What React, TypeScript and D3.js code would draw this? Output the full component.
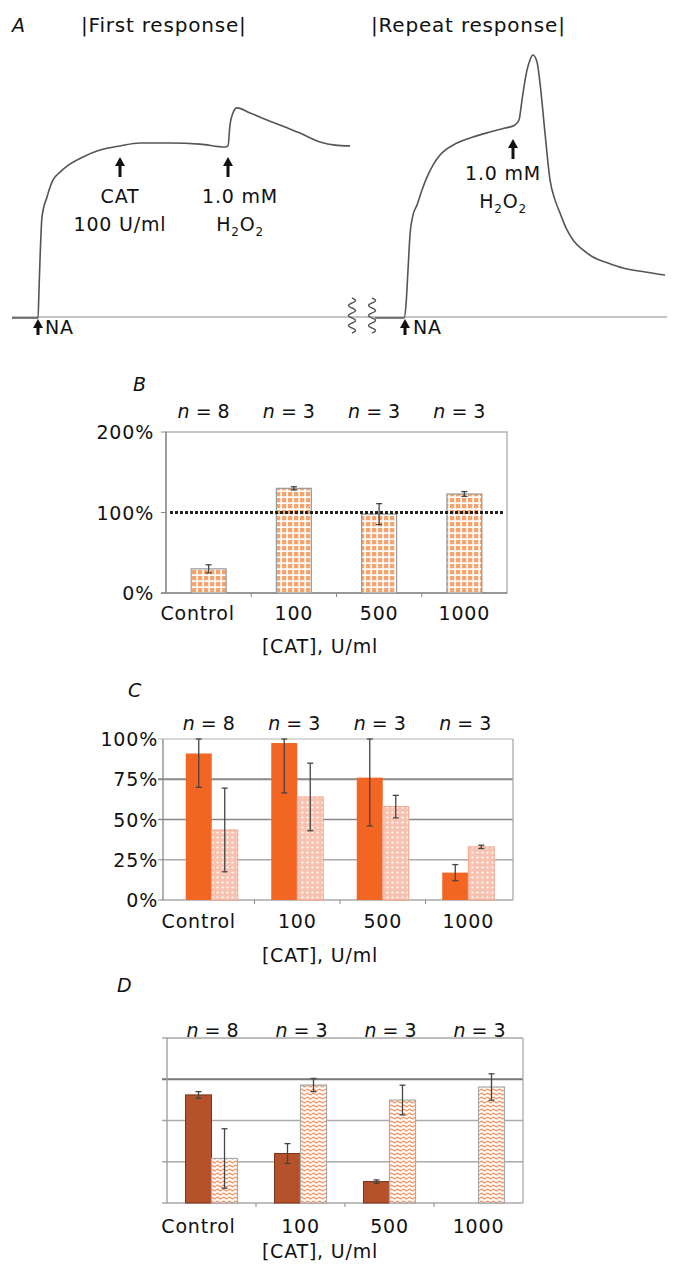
import React from 'react';
import * as d3 from 'd3';

// ---------- DATA ----------
const categories = ['Control', '100', '500', '1000'];
const nCounts = ['8', '3', '3', '3'];

const bTicks = [0, 100, 200];
const bValues = [30, 130, 98, 123];
const bErrors = [5, 2, 13, 3];

const cTicks = [0, 25, 50, 75, 100];
const cSolid = [91, 97.5, 76, 17];
const cSolidErr = [21, 31, 30, 5];
const cPattern = [43.5, 64, 58, 33];
const cPatternErr = [26, 21, 7, 1];

const dGrid = [0, 25, 50, 75, 100];
const dSolid = [65.5, 30, 13, 0];
const dSolidErr = [2, 6, 1, 0];
const dPattern = [27, 71.5, 62.4, 70.3];
const dPatternErr = [18, 4, 9, 8];

// Panel A traces (time in arbitrary units, response relative to repeat-response peak)
const firstTime = [0, 25, 26, 27, 28, 30, 35, 41, 48, 55, 71, 88, 108, 128, 158, 188, 213, 216, 218, 221, 225, 238, 255, 273, 288, 308, 323, 338];
const firstResp = [-0.004, -0.004, -0.004, 0.103, 0.218, 0.382, 0.458, 0.523, 0.553, 0.576, 0.611, 0.637, 0.653, 0.664, 0.664, 0.66, 0.649, 0.653, 0.733, 0.779, 0.798, 0.779, 0.752, 0.725, 0.702, 0.668, 0.656, 0.653];
const repeatTime = [0, 29, 31, 33, 35, 38, 42, 47, 52, 58, 65, 82, 98, 115, 130, 140, 144, 147, 151, 155, 158, 162, 165, 170, 175, 180, 185, 191, 198, 208, 218, 233, 248, 270, 290];
const repeatResp = [-0.004, -0.004, 0.046, 0.179, 0.313, 0.389, 0.427, 0.485, 0.534, 0.58, 0.618, 0.664, 0.687, 0.706, 0.721, 0.733, 0.752, 0.828, 0.924, 0.981, 1.0, 0.973, 0.893, 0.702, 0.523, 0.447, 0.397, 0.34, 0.294, 0.256, 0.229, 0.206, 0.187, 0.172, 0.16];
const firstCatTime = 108;
const firstH2O2Time = 216;
const firstNATime = 26;
const repeatH2O2Time = 138;
const repeatNATime = 30;

const FONT = '"DejaVu Sans", Lato, sans-serif';
const FS = 19;
const LS = 0.8;
const ORANGE = '#f26522';
const BROWN = '#b5522b';

function Arrow({ x, tip, len = 20 }: { x: number; tip: number; len?: number }) {
  const head = 9;
  return (
    <g>
      <path d={`M${x - 5},${tip + head} L${x},${tip} L${x + 5},${tip + head} Z`} fill="#111" />
      <line x1={x} x2={x} y1={tip + head - 1} y2={tip + len} stroke="#111" strokeWidth={3} />
    </g>
  );
}

function Squiggle({ x, y0, y1 }: { x: number; y0: number; y1: number }) {
  const pts: [number, number][] = [];
  const n = 60;
  for (let i = 0; i <= n; i++) {
    const y = y0 + ((y1 - y0) * i) / n;
    pts.push([x + 3.5 * Math.sin((i / n) * Math.PI * 7), y]);
  }
  return <path d={d3.line()(pts) || ''} fill="none" stroke="#555" strokeWidth={1.4} />;
}

function T(props: any) {
  return <text fontSize={FS} fill="#111" letterSpacing={LS} {...props} />;
}

function NLabel({ x, y, n }: { x: number; y: number; n: string }) {
  return (
    <text x={x} y={y} textAnchor="middle" fontSize={FS} fill="#111">
      <tspan fontStyle="italic">n</tspan>
      <tspan> = {n}</tspan>
    </text>
  );
}

function H2O2({ x, y }: { x: number; y: number }) {
  return (
    <text x={x} y={y} textAnchor="middle" fontSize={FS} fill="#111" letterSpacing={LS}>
      H<tspan fontSize={12} dy={5}>2</tspan>
      <tspan dy={-5}>O</tspan>
      <tspan fontSize={12} dy={5}>2</tspan>
    </text>
  );
}

function ErrorBar({ x, y0, y1, color = '#444' }: { x: number; y0: number; y1: number; color?: string }) {
  return (
    <g stroke={color} strokeWidth={1.3}>
      <line x1={x} x2={x} y1={y0} y2={y1} />
      <line x1={x - 3} x2={x + 3} y1={y0} y2={y0} />
      <line x1={x - 3} x2={x + 3} y1={y1} y2={y1} />
    </g>
  );
}

export default function App() {
  // ---------- Panel A ----------
  const yA = d3.scaleLinear().domain([0, 1]).range([317, 55]);
  const xA1 = d3.scaleLinear().domain([0, 338]).range([12, 350]);
  const xA2 = d3.scaleLinear().domain([0, 290]).range([375, 665]);
  const line1 = d3
    .line<number>()
    .x((_, i) => xA1(firstTime[i]))
    .y((d) => yA(d))
    .curve(d3.curveMonotoneX);
  const line2 = d3
    .line<number>()
    .x((_, i) => xA2(repeatTime[i]))
    .y((d) => yA(d))
    .curve(d3.curveMonotoneX);

  // ---------- Panel B ----------
  const xB = d3.scaleBand<string>().domain(categories).range([166, 507]);
  const yB = d3.scaleLinear().domain([0, 200]).range([593, 432]);
  const bw = xB.bandwidth() * 0.41;

  // ---------- Panel C ----------
  const xC = d3.scaleBand<string>().domain(categories).range([169, 511]);
  const yC = d3.scaleLinear().domain([0, 100]).range([900, 739]);
  const subC = d3.scaleBand<string>().domain(['solid', 'pattern']).range([-26, 26]);

  // ---------- Panel D ----------
  const xD = d3.scaleBand<string>().domain(categories).range([167, 523]);
  const yD = d3.scaleLinear().domain([0, 100]).range([1203, 1038]);
  const subD = d3.scaleBand<string>().domain(['solid', 'pattern']).range([-26, 26]);

  const cx = (s: d3.ScaleBand<string>, c: string) => (s(c) as number) + s.bandwidth() / 2;

  return (
    <svg
      width={677}
      height={1269}
      viewBox="0 0 677 1269"
      style={{ position: 'absolute', left: 0, top: 0, background: '#fff' }}
      fontFamily={FONT}
    >
      <defs>
        <pattern id="gridPat" width={6} height={6} patternUnits="userSpaceOnUse">
          <rect width={6} height={6} fill="#fff" />
          <rect x={0} y={0} width={4.3} height={4.3} fill="#f5a36f" />
        </pattern>
        <pattern id="dotPat" width={5} height={5} patternUnits="userSpaceOnUse">
          <rect width={5} height={5} fill="#f7c3b0" />
          <circle cx={2.5} cy={2.5} r={1.1} fill="#fff" />
        </pattern>
        <pattern id="wavePat" width={6} height={4} patternUnits="userSpaceOnUse">
          <rect width={6} height={4} fill="#fff" />
          <path d="M0,2 Q1.5,0.6 3,2 T6,2" fill="none" stroke="#f29a6a" strokeWidth={1.4} />
        </pattern>
      </defs>

      {/* ===== Panel A ===== */}
      <T x={12} y={32} fontStyle="italic">A</T>
      <T x={81} y={32} fontSize={20}>|First response|</T>
      <T x={371} y={32} fontSize={20}>|Repeat response|</T>

      <line x1={12} x2={667} y1={317} y2={317} stroke="#888" strokeWidth={1} />
      <path d={line1(firstResp) || ''} fill="none" stroke="#555" strokeWidth={1.6} />
      <path d={line2(repeatResp) || ''} fill="none" stroke="#555" strokeWidth={1.6} />
      <Squiggle x={352} y0={298} y1={333} />
      <Squiggle x={372} y0={298} y1={333} />

      <Arrow x={xA1(firstCatTime)} tip={157} />
      <T x={120} y={203} textAnchor="middle">CAT</T>
      <T x={120} y={231} textAnchor="middle">100 U/ml</T>
      <Arrow x={xA1(firstH2O2Time)} tip={157} />
      <T x={240} y={203} textAnchor="middle">1.0 mM</T>
      <H2O2 x={240} y={231} />

      <Arrow x={xA2(repeatH2O2Time)} tip={139} />
      <T x={503} y={180} textAnchor="middle">1.0 mM</T>
      <H2O2 x={503} y={208} />

      <Arrow x={xA1(firstNATime)} tip={319} len={16} />
      <T x={45} y={334}>NA</T>
      <Arrow x={xA2(repeatNATime)} tip={319} len={16} />
      <T x={413} y={334}>NA</T>

      {/* ===== Panel B ===== */}
      <T x={133} y={391} fontStyle="italic">B</T>
      {categories.map((c, i) => (
        <NLabel key={c} x={cx(xB, c) - 5} y={418} n={nCounts[i]} />
      ))}
      <rect x={166} y={432} width={341} height={161} fill="none" stroke="#aaa" strokeWidth={1.3} />
      <line x1={166} x2={166} y1={432} y2={593} stroke="#888" strokeWidth={1.3} />
      {bTicks.map((t) => (
        <g key={t}>
          <line x1={161} x2={166} y1={yB(t)} y2={yB(t)} stroke="#888" />
          <T x={154} y={yB(t) + 7} textAnchor="end">{t}%</T>
        </g>
      ))}
      <line x1={161} x2={507} y1={593} y2={593} stroke="#888" strokeWidth={1.3} />
      {categories.slice(1).map((c) => (
        <line key={c} x1={xB(c)} x2={xB(c)} y1={593} y2={597} stroke="#888" />
      ))}
      {categories.map((c, i) => (
        <g key={c}>
          <rect x={cx(xB, c) - bw / 2} y={yB(bValues[i])} width={bw} height={593 - yB(bValues[i])} fill="url(#gridPat)" stroke="#999" strokeWidth={1.2} />
          <ErrorBar x={cx(xB, c)} y0={yB(bValues[i] + bErrors[i])} y1={yB(bValues[i] - bErrors[i])} />
        </g>
      ))}
      <line x1={170} x2={505} y1={yB(100)} y2={yB(100)} stroke="#222" strokeWidth={3} strokeDasharray="3,2" />
      {categories.map((c, i) => (
        <T key={c} x={cx(xB, c) - (i === 0 ? 11 : 0)} y={620} textAnchor="middle">{c}</T>
      ))}
      <T x={320} y={653} textAnchor="middle">[CAT], U/ml</T>

      {/* ===== Panel C ===== */}
      <T x={128} y={697} fontStyle="italic">C</T>
      {categories.map((c, i) => (
        <NLabel key={c} x={cx(xC, c) - 3} y={730} n={nCounts[i]} />
      ))}
      {cTicks.map((t) => (
        <g key={t}>
          <line x1={158} x2={513} y1={yC(t)} y2={yC(t)} stroke={t === 50 || t === 75 ? '#888' : t === 100 ? '#ccc' : '#aaa'} strokeWidth={t === 75 ? 2 : 1.4} />
          <T x={158} y={yC(t) + 7} textAnchor="end">{t}%</T>
        </g>
      ))}
      <line x1={163} x2={163} y1={739} y2={900} stroke="#888" strokeWidth={1.3} />
      <line x1={513} x2={513} y1={739} y2={900} stroke="#aaa" strokeWidth={1.3} />
      {categories.slice(1).map((c) => (
        <line key={c} x1={xC(c)} x2={xC(c)} y1={900} y2={904} stroke="#888" />
      ))}
      {categories.map((c, i) => {
        const c0 = cx(xC, c);
        const sx = c0 + (subC('solid') as number);
        const px = c0 + (subC('pattern') as number);
        const w = subC.bandwidth();
        const clip = (v: number) => Math.min(100, Math.max(0, v));
        return (
          <g key={c}>
            <rect x={sx} y={yC(cSolid[i])} width={w} height={900 - yC(cSolid[i])} fill={ORANGE} />
            <rect x={px} y={yC(cPattern[i])} width={w} height={900 - yC(cPattern[i])} fill="url(#dotPat)" stroke="#f5a48a" strokeWidth={1} />
            <ErrorBar x={sx + w / 2} y0={yC(clip(cSolid[i] + cSolidErr[i]))} y1={yC(clip(cSolid[i] - cSolidErr[i]))} />
            <ErrorBar x={px + w / 2} y0={yC(clip(cPattern[i] + cPatternErr[i]))} y1={yC(clip(cPattern[i] - cPatternErr[i]))} />
          </g>
        );
      })}
      {categories.map((c, i) => (
        <T key={c} x={cx(xC, c) - (i === 0 ? 13 : 0)} y={928} textAnchor="middle">{c}</T>
      ))}
      <T x={320} y={962} textAnchor="middle">[CAT], U/ml</T>

      {/* ===== Panel D ===== */}
      <T x={117} y={992} fontStyle="italic">D</T>
      {categories.map((c, i) => (
        <NLabel key={c} x={cx(xD, c) + 1} y={1037} n={nCounts[i]} />
      ))}
      {dGrid.map((t) => (
        <line key={t} x1={162} x2={523} y1={yD(t)} y2={yD(t)} stroke={t === 75 ? '#777' : '#aaa'} strokeWidth={t === 75 ? 2 : 1.4} />
      ))}
      <line x1={167} x2={167} y1={1038} y2={1203} stroke="#999" strokeWidth={1.3} />
      <line x1={523} x2={523} y1={1038} y2={1203} stroke="#aaa" strokeWidth={1.3} />
      {categories.slice(1).map((c) => (
        <line key={c} x1={xD(c)} x2={xD(c)} y1={1203} y2={1207} stroke="#888" />
      ))}
      {categories.map((c, i) => {
        const c0 = cx(xD, c);
        const sx = c0 + (subD('solid') as number);
        const px = c0 + (subD('pattern') as number);
        const w = subD.bandwidth();
        return (
          <g key={c}>
            {dSolid[i] > 0 && (
              <rect x={sx} y={yD(dSolid[i])} width={w} height={1203 - yD(dSolid[i])} fill={BROWN} stroke="#7a3318" strokeWidth={1} />
            )}
            <rect x={px} y={yD(dPattern[i])} width={w} height={1203 - yD(dPattern[i])} fill="url(#wavePat)" stroke="#aaa" strokeWidth={1.2} />
            {dSolid[i] > 0 && (
              <ErrorBar x={sx + w / 2} y0={yD(dSolid[i] + dSolidErr[i])} y1={yD(dSolid[i] - dSolidErr[i])} />
            )}
            <ErrorBar x={px + w / 2} y0={yD(dPattern[i] + dPatternErr[i])} y1={yD(dPattern[i] - dPatternErr[i])} />
          </g>
        );
      })}
      {categories.map((c, i) => (
        <T key={c} x={cx(xD, c) - (i === 0 ? 13 : 0)} y={1233} textAnchor="middle">{c}</T>
      ))}
      <T x={320} y={1258} textAnchor="middle">[CAT], U/ml</T>
    </svg>
  );
}
